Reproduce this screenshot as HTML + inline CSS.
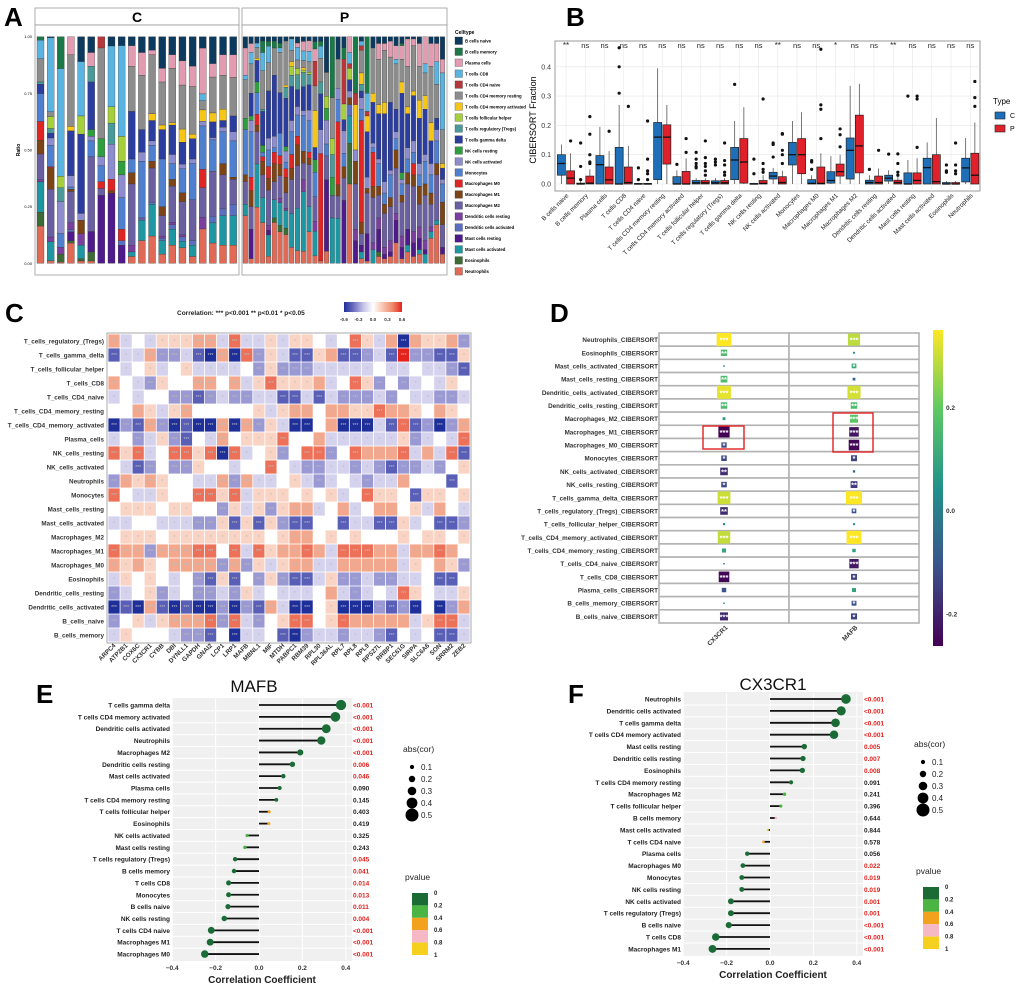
<!DOCTYPE html>
<html><head><meta charset="utf-8"><style>
html,body{margin:0;padding:0;background:#fff;width:1020px;height:1000px;overflow:hidden}
svg{display:block;font-family:"Liberation Sans",Arial,sans-serif}
</style></head><body>
<svg id="fig" width="1020" height="1000" viewBox="0 0 1020 1000">
<g font-weight="bold" font-size="26" fill="#000">
<text x="4" y="26">A</text>
<text x="566" y="26">B</text>
<text x="5" y="322">C</text>
<text x="550" y="322">D</text>
<text x="36" y="703">E</text>
<text x="568" y="703">F</text>
</g>
</svg>
<script>
const NS='http://www.w3.org/2000/svg';
const svg=document.getElementById('fig');
function mk(tag,attrs,parent,txt){const e=document.createElementNS(NS,tag);for(const k in attrs)e.setAttribute(k,attrs[k]);if(txt!==undefined)e.textContent=txt;(parent||svg).appendChild(e);return e;}

// ---------------- Panel A data ----------------
const cellTypes=["B cells naive","B cells memory","Plasma cells","T cells CD8","T cells CD4 naive","T cells CD4 memory resting","T cells CD4 memory activated","T cells follicular helper","T cells regulatory (Tregs)","T cells gamma delta","NK cells resting","NK cells activated","Monocytes","Macrophages M0","Macrophages M1","Macrophages M2","Dendritic cells resting","Dendritic cells activated","Mast cells resting","Mast cells activated","Eosinophils","Neutrophils"];
const cellColors=["#0b3a5e","#1a7a47","#e29bb0","#5ab4e2","#b5373a","#8c8c8c","#f5c518","#a6cf3c","#4a9a9a","#2b3d9e","#2e9e3e","#8c8ccf","#4f7fcf","#e02525","#7d4416","#6a5fa0","#7b3fa0","#5a6fc0","#4f1a8a","#1f97a3","#3d6b35","#e06a55"];
const groupC=[
[0,.015,0,.08,0,.10,0,0,.01,.04,0,0,.12,.08,.06,.11,.01,0,0,.13,.06,.16],
[.005,0,0,.31,0,.02,0,.05,.02,.02,0,.03,.09,.005,.09,.2,.02,0,0,.08,0,.01],
[0,.14,0,.47,0,0,0,.05,.06,0,0,.14,.06,0,0,0,.03,0,0,0,.035,.005],
[0,0,.08,0,0,.32,.02,0,0,.2,0,.05,.01,0,.01,.14,.03,.01,.04,0,.01,.09],
[.11,0,0,.24,0,0,0,.08,0,.35,0,.03,0,0,.06,0,.05,0,0,.06,.01,.01],
[.07,0,.06,0,0,0,0,0,.07,.21,.03,.02,.07,0,0,.33,0,0,.09,0,.04,.01],
[0,0,0,0,.05,.40,0,0,0,0,.08,.04,.07,.03,0,.03,0,0,.30,0,0,0],
[.04,0,0,.26,0,0,0,.07,.09,0,0,.15,0,.05,.01,0,0,0,.30,0,0,0],
[.04,0,0,.40,0,0,0,.11,0,0,.06,.1,.14,.05,0,0,0,.02,.08,0,0,0],
[.04,0,.09,0,0,.20,0,0,0,.21,0,0,.06,0,.05,.27,.03,0,0,.02,0,.03],
[.07,0,.1,0,0,.24,0,0,0,.10,0,.04,.25,0,0,.01,0,0,0,.09,0,.1],
[.06,0,.02,0,0,.26,.03,0,0,.09,0,.02,.07,0,.03,.15,0,.01,0,.14,0,.12],
[.14,0,.06,0,0,.19,.02,0,0,.13,0,0,.21,0,.04,.09,.01,.01,0,.06,0,.04],
[.08,0,.06,0,0,.24,.01,0,0,.13,0,.04,.07,0,.03,.16,.01,.02,0,.07,0,.08],
[.11,0,.11,0,0,.20,.06,0,0,.10,0,.02,.11,0,.04,.15,.01,.02,0,.03,0,.07],
[.13,0,.09,0,0,.21,.02,0,0,.09,0,.02,.16,0,0,.18,0,.02,0,.05,0,.03],
[.05,0,.2,.03,0,.04,.05,0,0,0,0,.02,.19,.08,0,.13,.05,0,0,0,0,.15],
[.12,0,.06,0,0,.16,.04,0,0,.07,0,.01,.14,0,0,.2,0,.03,0,.09,0,.09],
[.08,0,.09,0,0,.15,.05,0,0,.03,0,.02,.14,0,.05,.15,0,.03,0,.13,0,.08],
[.08,0,.1,0,0,.17,0,0,0,.07,0,.04,.16,0,.01,.11,0,.05,0,.13,0,.08]];
const groupP=[
[.05,0,.12,.02,0,.17,0,0,0,0,.05,0,.2,0,.03,.1,0,0,0,.05,0,.21],
[.03,0,.04,.05,0,.13,0,0,0,.1,.02,.05,.2,.06,.07,.1,0,0,.13,0,0,.02],
[.03,0,0,.02,0,.05,.01,0,0,.1,.05,0,.1,.05,.03,.15,0,0,0,.2,0,.26],
[.02,.05,0,.08,0,.17,0,0,.01,.15,.03,0,.02,.02,.06,.1,0,0,0,.11,0,.18],
[.02,.02,0,.07,0,.12,0,0,0,.2,0,.05,.07,.05,.05,.15,.02,0,.02,.09,0,.03],
[.02,.03,0,0,0,.12,0,0,0,.27,0,.05,.02,.05,.08,.08,0,0,0,.08,.02,.18],
[.03,.02,0,.02,0,.18,0,0,0,.18,0,0,.1,.04,.05,.1,.02,0,0,.1,.03,.14],
[.02,0,0,0,0,.2,.01,0,.05,.22,.02,.05,.03,.04,.07,.07,.01,0,0,.08,.03,.13],
[.01,0,0,.05,0,.05,.02,.04,.05,.15,0,.05,.1,.06,.05,.15,0,0,0,.15,0,.07],
[.03,0,.02,.06,0,.04,0,.03,.07,.08,0,.04,.1,.04,.1,.2,0,0,0,.2,0,.06],
[.02,0,.04,.04,0,.03,.01,.01,.06,.1,0,.02,.15,0,.05,.07,.05,0,0,.25,0,.05],
[.02,0,.05,.05,0,.05,0,.01,.05,.12,0,.05,.15,.03,.03,.2,0,0,0,.12,0,.15],
[.02,.03,.05,0,.1,.1,.15,0,0,.05,.05,0,.1,0,0,.1,.04,0,0,.1,0,.03],
[.02,.02,0,.05,0,.1,0,0,.05,.15,0,.1,0,.45,0,0,0,0,0,0,0,.01],
[.15,0,0,0,0,.1,0,.05,0,0,.05,.1,.05,0,0,.1,0,0,.3,0,0,.05],
[0,.27,0,0,0,.18,0,.07,.1,0,.08,0,0,0,0,.1,0,0,0,.2,0,0],
[.1,0,0,0,0,.13,0,0,0,0,0,.05,.1,.28,.05,.1,0,0,0,.2,0,0],
[.05,.05,0,0,.2,0,0,.07,0,.05,0,.1,.06,0,.05,.1,0,0,.28,0,0,0],
[0,0,.07,.05,.02,0,0,.05,0,.05,0,.03,0,0,.03,0,0,.05,0,.12,.18,.35],
[0,.25,0,0,.05,0,.2,0,0,0,0,.05,0,0,.1,.2,.05,0,.1,0,0,0],
[.02,0,0,.02,.02,.1,.05,0,.03,.03,0,.05,.05,.45,.05,.05,0,0,.03,.03,0,.02],
[0,.25,0,.08,.02,0,.07,0,0,.2,0,.05,0,0,.02,.18,0,0,.12,0,0,.01],
[.05,0,0,0,0,.2,.04,0,0,.18,0,.02,.02,.15,.05,.2,.03,0,0,.06,0,0],
[.03,0,.07,0,0,.2,.04,0,0,.2,0,.02,.1,0,.04,.1,.05,0,.1,0,.02,.03],
[.03,0,.03,0,0,.23,.05,0,0,.3,0,.05,.05,0,.04,.15,.03,0,.02,0,0,.02],
[.02,0,.07,0,0,.2,0,0,0,.3,0,.02,.1,0,.04,.15,.05,0,.02,0,0,.03],
[.04,0,.06,.02,0,.2,0,0,0,.1,0,.03,.05,0,.08,.2,.03,0,.1,0,0,.09],
[.03,.01,.06,0,0,.1,.05,0,0,.35,.03,.02,.05,0,.03,.15,.05,0,.05,0,0,.02],
[.01,0,.12,0,0,.18,.03,0,0,.15,0,.05,.06,0,.05,.2,0,0,.07,.03,0,.05],
[.01,0,.03,0,0,.2,.02,0,0,.2,0,.05,.05,.05,.05,.2,.05,0,.06,0,0,.03],
[.03,0,.1,0,0,.15,.08,0,0,.2,0,.05,.05,0,.08,.1,.05,0,.05,.02,0,.04],
[0,0,.12,.04,0,.1,.06,0,0,.2,0,.03,.1,0,.05,.2,.04,0,.02,.04,0,0],
[.03,0,.1,0,0,.25,.08,0,0,.1,0,.05,.08,0,.05,.1,.02,0,0,.03,0,.11],
[.03,0,.08,.1,0,.15,0,0,0,.05,0,.05,.1,0,.05,.2,0,0,0,.02,0,.17],
[.1,0,.06,.25,0,.15,.02,0,0,.05,0,.02,.08,0,.1,.1,0,0,.03,0,0,.04]];
const ratioTicks=[0,0.25,0.5,0.75,1];

// ---------------- Panel B data ----------------
const bCats=["B cells naive","B cells memory","Plasma cells","T cells CD8","T cells CD4 naive","T cells CD4 memory resting","T cells CD4 memory activated","T cells follicular helper","T cells regulatory (Tregs)","T cells gamma delta","NK cells resting","NK cells activated","Monocytes","Macrophages M0","Macrophages M1","Macrophages M2","Dendritic cells resting","Dendritic cells activated","Mast cells resting","Mast cells activated","Eosinophils","Neutrophils"];
const boxC=[[0,.03,.07,.1,.135],[0,0,0,.003,.01],[0,0,.066,.097,.195],[0,0,0,.125,.27],[0,0,0,.002,.004],[0,.015,.16,.21,.395],[0,0,0,.025,.047],[0,0,.004,.012,.02],[0,0,.004,.011,.02],[0,.015,.082,.125,.215],[0,0,0,.002,.004],[0,.017,.027,.04,.055],[0,.065,.1,.142,.215],[0,0,.002,.015,.03],[0,.003,.012,.042,.095],[0,.017,.115,.157,.335],[0,0,.005,.013,.03],[0,.01,.02,.03,.047],[0,0,0,.038,.082],[0,0,.056,.088,.142],[0,0,0,.005,.01],[0,.007,.055,.088,.157]];
const boxP=[[0,0,.02,.045,.105],[0,0,.003,.027,.05],[0,0,.014,.058,.112],[0,0,.005,.058,.13],[0,0,0,.002,.004],[0,.068,.16,.202,.27],[0,0,0,.043,.088],[0,0,.004,.012,.02],[0,0,.004,.012,.02],[0,.003,.075,.155,.262],[0,0,.002,.012,.03],[0,0,.005,.025,.045],[0,.035,.1,.155,.245],[0,0,.002,.058,.105],[0,.027,.042,.068,.1],[0,.038,.13,.235,.342],[0,0,.005,.027,.053],[0,0,.005,.013,.025],[0,0,.012,.038,.088],[0,0,.008,.1,.225],[0,0,0,.005,.01],[0,0,.03,.105,.21]];
const outC=[[],[.14,.06,.015],[],[.31,.4,.465],[.055,.015],[],[.067],[.108,.085,.07,.06,.055],[.085,.075,.065],[.34],[.085,.035],[.14,.135,.092],[],[.08,.075,.05],[],[],[.05],[.102],[.3],[],[.065,.045,.04],[]];
const outP=[[.147],[.23,.17,.1,.07,.075],[.18],[.265],[.215,.085,.045,.035,.015],[],[.155,.108],[.147,.09,.07,.06,.045,.03],[.14,.08,.065,.04,.03],[],[.29,.07,.05,.04],[.172,.17,.115,.1,.07],[],[.46,.27,.255,.155],[.188,.168,.127],[],[.115],[.103,.07,.04,.03],[.3,.29,.125],[],[.14,.065,.045,.035],[.35,.295,.265]];
const bSig=["**","ns","ns","ns","ns","ns","ns","ns","ns","ns","ns","**","ns","ns","*","ns","ns","**","ns","ns","ns","ns"];
const bTicks=[0,0.1,0.2,0.3,0.4];

// ---------------- Panel C data ----------------
const cRows=["T_cells_regulatory_(Tregs)","T_cells_gamma_delta","T_cells_follicular_helper","T_cells_CD8","T_cells_CD4_naive","T_cells_CD4_memory_resting","T_cells_CD4_memory_activated","Plasma_cells","NK_cells_resting","NK_cells_activated","Neutrophils","Monocytes","Mast_cells_resting","Mast_cells_activated","Macrophages_M2","Macrophages_M1","Macrophages_M0","Eosinophils","Dendritic_cells_resting","Dendritic_cells_activated","B_cells_naive","B_cells_memory"];
const cCols=["ARPC4","ATP2B1","COX6C","CX3CR1","CYBB","DBI","DYNLL1","GAPDH","GNAI2","LCP1","LRP1","MAFB","MBNL1","MIF","MTDH","PABPC1","RBM39","RPL30","RPL36AL","RPL7","RPL8","RPL9","RPS27L","RRBP1","SEC61G","SIRPA","SLC6A6","SON","SRRM2","ZEB2"];
const cVals=[
[2,-1,0,-1,1,1,1,2,2,-1,3,-1,-1,1,-1,1,1,0,-1,0,3,1,-1,2,-4,2,1,1,2,-2],
[-3,-1,-1,2,-2,-2,-1,-3,-4,2,-4,3,-2,1,-1,-3,-3,1,2,-3,-3,-2,-1,-3,4,-2,-2,-3,-3,1],
[0,-1,0,1,-1,0,1,-1,-1,-1,-1,0,-2,1,-2,-2,-2,-1,-1,-1,-1,-1,0,-1,-1,0,-1,-1,-2,-3],
[2,0,-1,-2,1,0,0,2,2,0,2,-1,1,3,1,1,1,2,-1,0,3,1,-2,0,-2,-1,0,-1,1,0],
[-1,0,-1,0,0,-2,-2,-3,-2,-1,-2,-2,-1,-1,-3,-3,-1,-3,-1,-2,-2,-2,-1,-2,0,-1,-1,-2,-2,-1],
[0,0,2,1,-1,1,2,0,0,0,0,0,1,-1,1,2,2,0,2,2,1,1,3,2,2,1,0,2,1,0],
[-4,-2,-3,2,-2,-4,-3,-4,-4,2,-4,2,-2,1,-1,-4,-4,0,2,-4,-4,-4,-1,-3,3,-3,-2,-4,-2,2],
[-1,0,-2,-1,1,-2,-3,0,-1,2,0,1,1,1,3,0,0,2,-1,-1,-1,-1,-1,-1,1,-2,-1,0,-1,3],
[3,1,3,-1,0,3,3,1,3,-4,3,-1,0,1,-2,0,3,3,-2,0,3,2,2,2,3,-1,2,-1,3,-3],
[0,-1,-3,-2,0,-2,-2,1,0,0,-1,0,0,3,0,-1,-2,-2,-1,-1,-2,-1,-2,-3,-2,-2,-1,-2,0,1],
[-2,2,1,2,1,0,0,-1,-1,2,-2,2,-1,-1,0,1,-1,-2,-1,0,-1,-2,-1,-1,2,0,0,0,-3,0],
[3,0,-1,-1,1,0,0,3,3,1,3,-1,1,1,1,0,1,0,1,-1,0,3,1,1,0,-3,1,1,0,1],
[0,1,1,1,0,1,1,0,0,-2,1,-1,1,-2,1,2,2,-1,0,2,-1,0,2,2,0,1,-1,2,0,-1],
[-1,-1,0,0,-1,-1,-1,-2,-2,1,-3,1,-3,1,-2,-3,-3,0,0,-3,-1,-1,-3,-3,1,-1,0,-3,-3,-2],
[0,1,1,1,0,1,1,1,1,1,1,1,1,0,1,2,2,0,1,0,1,0,0,0,1,0,1,1,0,1],
[3,2,2,-2,2,2,2,3,3,0,3,-1,3,1,2,2,3,2,-1,3,3,3,2,2,-1,2,2,3,2,0],
[2,1,2,1,0,2,2,2,2,-2,2,-2,1,-1,1,2,2,-1,-1,2,2,2,2,2,-1,1,0,2,1,-2],
[-1,1,0,1,0,-1,0,-2,-3,1,-3,0,-2,1,-2,-3,-3,-1,1,-2,-2,-1,-2,-2,-1,-1,0,-3,-3,0],
[-2,-1,0,1,-2,-1,0,-2,-2,-1,-2,1,-1,0,-1,-1,-1,0,2,-1,-2,-1,0,-1,3,1,0,-1,-1,1],
[-4,-3,-4,2,-3,-4,-3,-4,-4,-2,-4,-2,-3,2,-1,-4,-4,0,1,-4,-4,-4,-2,-3,-2,-4,0,-4,-2,2],
[-2,0,1,-1,1,2,2,2,3,-2,3,-1,-2,0,1,3,3,0,1,3,2,2,2,2,2,-1,1,3,3,-1],
[-1,1,0,0,0,-1,-2,-2,-3,0,-4,-1,-1,0,-3,-4,-2,-1,-1,-2,-1,-1,-2,-3,0,-1,0,-3,-3,-1]];
const cTicks=[-0.6,-0.3,0,0.3,0.6];

// ---------------- Panel E / F data ----------------
const eCats=["T cells gamma delta","T cells CD4 memory activated","Dendritic cells activated","Neutrophils","Macrophages M2","Dendritic cells resting","Mast cells activated","Plasma cells","T cells CD4 memory resting","T cells follicular helper","Eosinophils","NK cells activated","Mast cells resting","T cells regulatory (Tregs)","B cells memory","T cells CD8","Monocytes","B cells naive","NK cells resting","T cells CD4 naive","Macrophages M1","Macrophages M0"];
const eVals=[.378,.352,.31,.287,.19,.154,.112,.095,.08,.047,.045,-.055,-.065,-.11,-.115,-.14,-.14,-.143,-.16,-.22,-.225,-.25];
const eP=[.0005,.0005,.0005,.0005,.0005,.006,.046,.090,.145,.403,.419,.325,.243,.045,.041,.014,.013,.011,.004,.0005,.0005,.0005];
const fCats=["Neutrophils","Dendritic cells activated","T cells gamma delta","T cells CD4 memory activated","Mast cells resting","Dendritic cells resting","Eosinophils","T cells CD4 memory resting","Macrophages M2","T cells follicular helper","B cells memory","Mast cells activated","T cells CD4 naive","Plasma cells","Macrophages M0","Monocytes","NK cells resting","NK cells activated","T cells regulatory (Tregs)","B cells naive","T cells CD8","Macrophages M1"];
const fVals=[.35,.328,.302,.295,.158,.152,.149,.097,.067,.05,.027,-.01,-.03,-.105,-.125,-.13,-.13,-.18,-.18,-.19,-.25,-.265];
const fP=[.0005,.0005,.0005,.0005,.005,.007,.008,.091,.241,.396,.644,.844,.578,.056,.022,.019,.019,.001,.001,.0005,.0005,.0005];
const corTicks=[-0.4,-0.2,0,0.2,0.4];
const sizeLegend=[0.1,0.2,0.3,0.4,0.5];
const pLegend=[0,0.2,0.4,0.6,0.8,1];

// ---------------- Panel D data ----------------
const dRows=["Neutrophils","Eosinophils","Mast_cells_activated","Mast_cells_resting","Dendritic_cells_activated","Dendritic_cells_resting","Macrophages_M2","Macrophages_M1","Macrophages_M0","Monocytes","NK_cells_activated","NK_cells_resting","T_cells_gamma_delta","T_cells_regulatory_(Tregs)","T_cells_follicular_helper","T_cells_CD4_memory_activated","T_cells_CD4_memory_resting","T_cells_CD4_naive","T_cells_CD8","Plasma_cells","B_cells_memory","B_cells_naive"];
const dGenes=["CX3CR1","MAFB"];
const dTicks=[-0.2,0,0.2];

// ======== helpers ========
function txt(x,y,s,attrs,parent){return mk('text',Object.assign({x:x,y:y},attrs||{}),parent,s);}
function lerpCol(stops,t){t=Math.max(0,Math.min(1,t));const n=stops.length-1;const i=Math.min(n-1,Math.floor(t*n));const f=t*n-i;
 const a=stops[i],b=stops[i+1];const h=c=>[parseInt(c.slice(1,3),16),parseInt(c.slice(3,5),16),parseInt(c.slice(5,7),16)];
 const A=h(a),B=h(b);return 'rgb('+A.map((v,k)=>Math.round(v+(B[k]-v)*f)).join(',')+')';}

// ======== Panel A ========
const gA=mk('g',{});


const aTop=36.7,aBot=263.3;
function yA(v){return aBot-(aBot-aTop)*v;}
[[35,239,'C'],[242,447,'P']].forEach(s=>{
 const st=mk('rect',{x:s[0],y:8,width:s[1]-s[0],height:17,fill:'#fff',stroke:'#999','stroke-width':0.8},gA);
 
 
 const pr=mk('rect',{x:s[0],y:25,width:s[1]-s[0],height:250,fill:'#fff',stroke:'#999','stroke-width':0.8},gA);
 
 
 const t=txt((s[0]+s[1])/2,22,s[2],{'text-anchor':'middle','font-size':14,'font-weight':'bold'},gA);
 
 
});
ratioTicks.forEach(v=>{const t=txt(32,yA(v)+1.5,v.toFixed(2),{'text-anchor':'end','font-size':4},gA);
 
 });
const ratioTitle=txt(0,0,'Ratio',{'font-size':5,'font-weight':'bold','text-anchor':'middle',transform:'translate(20,150) rotate(-90)'},gA);


function drawStack(list,x0,step,w,grp){
 list.forEach((arr,i)=>{const tot=arr.reduce((a,b)=>a+b,0);let cum=1;const x=x0+i*step;
  arr.forEach((v,k)=>{if(v<=0)return;const h=v/tot;const r=mk('rect',{x:x,y:yA(cum),width:w,height:(aBot-aTop)*h,fill:cellColors[k],stroke:'#333','stroke-width':0.3},gA);
   
   
   cum-=h;});
 });}
drawStack(groupC,37,10.14,7,'c');
drawStack(groupP,243,5.8,4.6,'p');
const legT=txt(455,34,'Celltype',{'font-size':5,'font-weight':'bold'},gA);


cellTypes.forEach((c,i)=>{const y=37+i*10.98;
 const r=mk('rect',{x:455,y:y,width:7.5,height:7.5,fill:cellColors[i],stroke:'#333','stroke-width':0.3},gA);
 
 
 const t=txt(465,y+5.5,c,{'font-size':4.3,'font-weight':'bold'},gA);
 
 });

// ======== Panel B ========
const gB=mk('g',{});


const bx0=555,bx1=980,by0=41,by1=191;
function yB(v){return 184-v*293;}
function cxB(i){return 566+i*19.25;}
const bbg=mk('rect',{x:bx0,y:by0,width:bx1-bx0,height:by1-by0,fill:'#fff',stroke:'#999','stroke-width':1},gB);


bTicks.forEach(v=>{const l=mk('line',{x1:bx0,x2:bx1,y1:yB(v),y2:yB(v),stroke:'#e6e6e6','stroke-width':0.6},gB);
 
 
 const t=txt(551,yB(v)+2.5,v.toFixed(1),{'text-anchor':'end','font-size':7,fill:'#333'},gB);
 
 });
bCats.forEach((c,i)=>{const l=mk('line',{x1:cxB(i),x2:cxB(i),y1:by0,y2:by1,stroke:'#e6e6e6','stroke-width':0.6},gB);
 
 });
const bTitle=txt(0,0,'CIBERSORT Fraction',{'font-size':9,'text-anchor':'middle',transform:'translate(536,120) rotate(-90)'},gB);


function drawBox(b,out,cx,col){
 const w=8;const x=cx-w/2;
 const wl=mk('line',{x1:cx,x2:cx,y1:yB(b[0]),y2:yB(b[4]),stroke:'#555','stroke-width':0.8},gB);
 
 
 const r=mk('rect',{x:x,y:yB(b[3]),width:w,height:Math.max(0.8,yB(b[1])-yB(b[3])),fill:col,stroke:'#222','stroke-width':0.7},gB);
 
 
 const m=mk('line',{x1:x,x2:x+w,y1:yB(b[2]),y2:yB(b[2]),stroke:'#111','stroke-width':1.3},gB);
 
 
 out.forEach(v=>{const c=mk('circle',{cx:cx,cy:yB(v),r:1.6,fill:'#111'},gB);
  
  });
}
bCats.forEach((c,i)=>{
 drawBox(boxC[i],outC[i],cxB(i)-4.6,'#1f6fb8');
 drawBox(boxP[i],outP[i],cxB(i)+4.6,'#e0202a');
 const s=txt(cxB(i),48,bSig[i],{'text-anchor':'middle','font-size':bSig[i]=='ns'?7.5:8,fill:'#222'},gB);
 
 
 const t=txt(0,0,c,{'text-anchor':'end','font-size':6.3,fill:'#222',transform:'translate('+(cxB(i)+3)+',196) rotate(-45)'},gB);
 
 });
const tl=txt(993,104,'Type',{'font-size':8},gB);


[['C','#1f6fb8',112],['P','#e0202a',125]].forEach(e=>{
 const r=mk('rect',{x:995,y:e[2],width:10,height:7,fill:e[1],stroke:'#222','stroke-width':0.6},gB);
 
 
 const t=txt(1010,e[2]+6,e[0],{'font-size':7},gB);
 
 });

// ======== Panel C ========
const gC=mk('g',{});


const cx0=108,cy0=334,cw=(470-108)/cCols.length,ch=(642-334)/cRows.length;
const cStops=['#1e2f9a','#6d6fc0','#c6c3e6','#ffffff','#f7c5b0','#ef8a6c','#e5231d'];
function cCol(v){return lerpCol(cStops,(v+0.6)/1.2);}
const cbg=mk('rect',{x:cx0-1,y:cy0-1,width:cw*cCols.length+2,height:ch*cRows.length+2,fill:'#fff',stroke:'#aaa','stroke-width':1},gC);


cVals.forEach((row,r)=>{row.forEach((u,c)=>{const v=u*0.15;
 const cell=mk('rect',{x:cx0+c*cw+0.4,y:cy0+r*ch+0.4,width:cw-0.8,height:ch-0.8,fill:cCol(v)},gC);
 
 
 const a=Math.abs(v);const st=a>=0.3?'***':a>=0.2?'**':a>=0.15?'*':'';
 if(st){const t=txt(cx0+c*cw+cw/2,cy0+r*ch+ch/2+2,st,{'text-anchor':'middle','font-size':5,fill:'#bbb'},gC);
  
  }
});});
cRows.forEach((n,r)=>{const t=txt(104,cy0+r*ch+ch/2+2.5,n,{'text-anchor':'end','font-size':6.3,'font-weight':'bold',fill:'#333'},gC);
 
 });
cCols.forEach((n,c)=>{const t=txt(0,0,n,{'text-anchor':'end','font-size':6.3,'font-weight':'bold',fill:'#333',transform:'translate('+(cx0+c*cw+cw/2+2)+',646) rotate(-45)'},gC);
 
 });
const cLeg=txt(177,315,'Correlation: ***  p<0.001  **  p<0.01  *  p<0.05',{'font-size':6.5,'font-weight':'bold',fill:'#222','xml:space':'preserve'},gC);


const defs=mk('defs',{});
const grad=mk('linearGradient',{id:'cgrad',x1:0,x2:1,y1:0,y2:0},defs);
cStops.forEach((s,i)=>mk('stop',{offset:i/(cStops.length-1),'stop-color':s},grad));
const cbar=mk('rect',{x:344,y:302,width:58,height:10,fill:'url(#cgrad)'},gC);


cTicks.forEach(v=>{const t=txt(344+(v+0.6)/1.2*58,321,v.toFixed(1),{'text-anchor':'middle','font-size':4.6,'font-weight':'bold',fill:'#333'},gC);
 
 });

// ======== Panel D ========
const gD=mk('g',{});


const dx0=659,dx1=919,dy0=333,dy1=623,dh=(dy1-dy0)/dRows.length;
const vir=['#440154','#3b528b','#21918c','#5ec962','#fde725'];
const dMin=-0.262,dMax=0.35;
function dCol(v){return lerpCol(vir,(v-dMin)/(dMax-dMin));}
function lookup(cats,vals,ps,name){const k=cats.findIndex(c=>c.replace(/ /g,'_')===name);return [vals[k],ps[k]];}
dRows.forEach((n,r)=>{
 const y=dy0+r*dh;
 [0,1].forEach(g=>{const cell=mk('rect',{x:dx0+g*130,y:y,width:130,height:dh,fill:'#fff',stroke:'#b3b3b3','stroke-width':1.6},gD);
  
  });
 const t=txt(658,y+dh/2+2.5,n+'_CIBERSORT',{'text-anchor':'end','font-size':6.3,'font-weight':'bold',fill:'#333'},gD);
 
 
});
dGenes.forEach((gname,g)=>{
 const src=g==0?[fCats,fVals,fP]:[eCats,eVals,eP];
 const cx=g==0?724:854;
 dRows.forEach((n,r)=>{const vp=lookup(src[0],src[1],src[2],n);const v=vp[0],p=vp[1];
  const s=Math.max(1.5,Math.abs(v)/0.378*16);const cy=dy0+r*dh+dh/2;
  const sq=mk('rect',{x:cx-s/2,y:cy-Math.min(s,dh)/2,width:s,height:Math.min(s,dh),fill:dCol(v)},gD);
  
  
  const st=p<0.001?'***':p<0.01?'**':p<0.05?'*':'';
  if(st){const t=txt(cx,cy+3,st,{'text-anchor':'middle','font-size':7.5,'font-weight':'bold',fill:'#fff'},gD);
   
   }
 });
 const lab=txt(0,0,gname,{'text-anchor':'end','font-size':6.5,'font-weight':'bold',fill:'#333',transform:'translate('+(cx+4)+',628) rotate(-45)'},gD);
 
 
});
[[703,426,41,23],[833,413,40,39]].forEach(b=>{const r=mk('rect',{x:b[0],y:b[1],width:b[2],height:b[3],fill:'none',stroke:'#e02020','stroke-width':1.4},gD);
 
 });
const grad2=mk('linearGradient',{id:'vgrad',x1:0,x2:0,y1:1,y2:0},defs);
vir.forEach((s,i)=>mk('stop',{offset:i/(vir.length-1),'stop-color':s},grad2));
const dbar=mk('rect',{x:933,y:330,width:10,height:316,fill:'url(#vgrad)'},gD);


dTicks.forEach(v=>{const y=330+(dMax-v)/(dMax-dMin)*316;
 const t=txt(946,y+2.5,v.toFixed(1),{'font-size':6.5,'font-weight':'bold',fill:'#333'},gD);
 
 });

// ======== Panels E & F ========
const pCols=['#1b6b37','#4bb543','#f2a21c','#f5b8c4','#f5d01e'];
function pColor(p){return pCols[Math.min(4,Math.floor(p/0.2))];}
function lollipop(name,title,cats,vals,ps,zero,left,right,top,step,titleX,titleY,legX,legY,pLegY){
 const g=mk('g',{});
 
 
 const X=v=>zero+v*217;
 const bot=top+step*(cats.length-1);
 const bg=mk('rect',{x:left,y:top-step/2-1,width:right-left,height:bot-top+step+2,fill:'#f0f0f0'},g);
 
 
 corTicks.forEach(v=>{const l=mk('line',{x1:X(v),x2:X(v),y1:top-step/2,y2:bot+step/2,stroke:'#fff','stroke-width':1},g);
  
  
  const t=txt(X(v),bot+step/2+10,(v<0?'\u2212':'')+Math.abs(v).toFixed(1),{'text-anchor':'middle','font-size':6.5,'font-weight':'bold',fill:'#333'},g);
  
  });
 cats.forEach((c,i)=>{const y=top+i*step;
  if(i>0){const l=mk('line',{x1:left,x2:right,y1:y-step/2,y2:y-step/2,stroke:'#fff','stroke-width':1},g);
   
   }
  const st=mk('line',{x1:X(0),x2:X(vals[i]),y1:y,y2:y,stroke:'#111','stroke-width':1.8},g);
  
  
  const d=mk('circle',{cx:X(vals[i]),cy:y,r:1+11*Math.abs(vals[i]),fill:pColor(ps[i])},g);
  
  
  const lb=txt(left-2,y+2.5,c,{'text-anchor':'end','font-size':6.5,'font-weight':'bold',fill:'#222'},g);
  
  
  const pv=ps[i]<0.001?'<0.001':ps[i].toFixed(3);
  const pt=txt(right+1,y+2.5,pv,{'font-size':6.5,'font-weight':'bold',fill:ps[i]<0.05?'#e0201c':'#222'},g);
  
  });
 const tt=txt(titleX,titleY,title,{'text-anchor':'middle','font-size':17,fill:'#111'},g);
 
 
 const xt=txt((left+right)/2,bot+step/2+23,'Correlation Coefficient',{'text-anchor':'middle','font-size':10,'font-weight':'bold',fill:'#222'},g);
 
 
 const st=txt(legX-9,legY,'abs(cor)',{'font-size':8.5,fill:'#222'},g);
 
 
 sizeLegend.forEach((v,i)=>{const y=legY+15+i*12;
  const c=mk('circle',{cx:legX,cy:y,r:1+11*v,fill:'#000'},g);
  
  
  const t=txt(legX+9,y+3,v.toFixed(1),{'font-size':8,fill:'#222'},g);
  
  });
 const pt=txt(legX-7,pLegY,'pvalue',{'font-size':8.5,fill:'#222'},g);
 
 
 pCols.forEach((c,i)=>{const r=mk('rect',{x:legX,y:pLegY+13+i*12.4,width:16,height:12.4,fill:c},g);
  
  });
 pLegend.forEach((v,i)=>{const t=txt(legX+22,pLegY+15+i*12.4,String(v),{'font-size':6,'font-weight':'bold',fill:'#222'},g);
  
  });
}
lollipop('panel-e-mafb-lollipop','MAFB',eCats,eVals,eP,259,172,352,705,11.86,254,692,412,752,880);
lollipop('panel-f-cx3cr1-lollipop','CX3CR1',fCats,fVals,fP,770,683,863,699,11.9,773,690,923,747,874);
</script>
</body></html>
